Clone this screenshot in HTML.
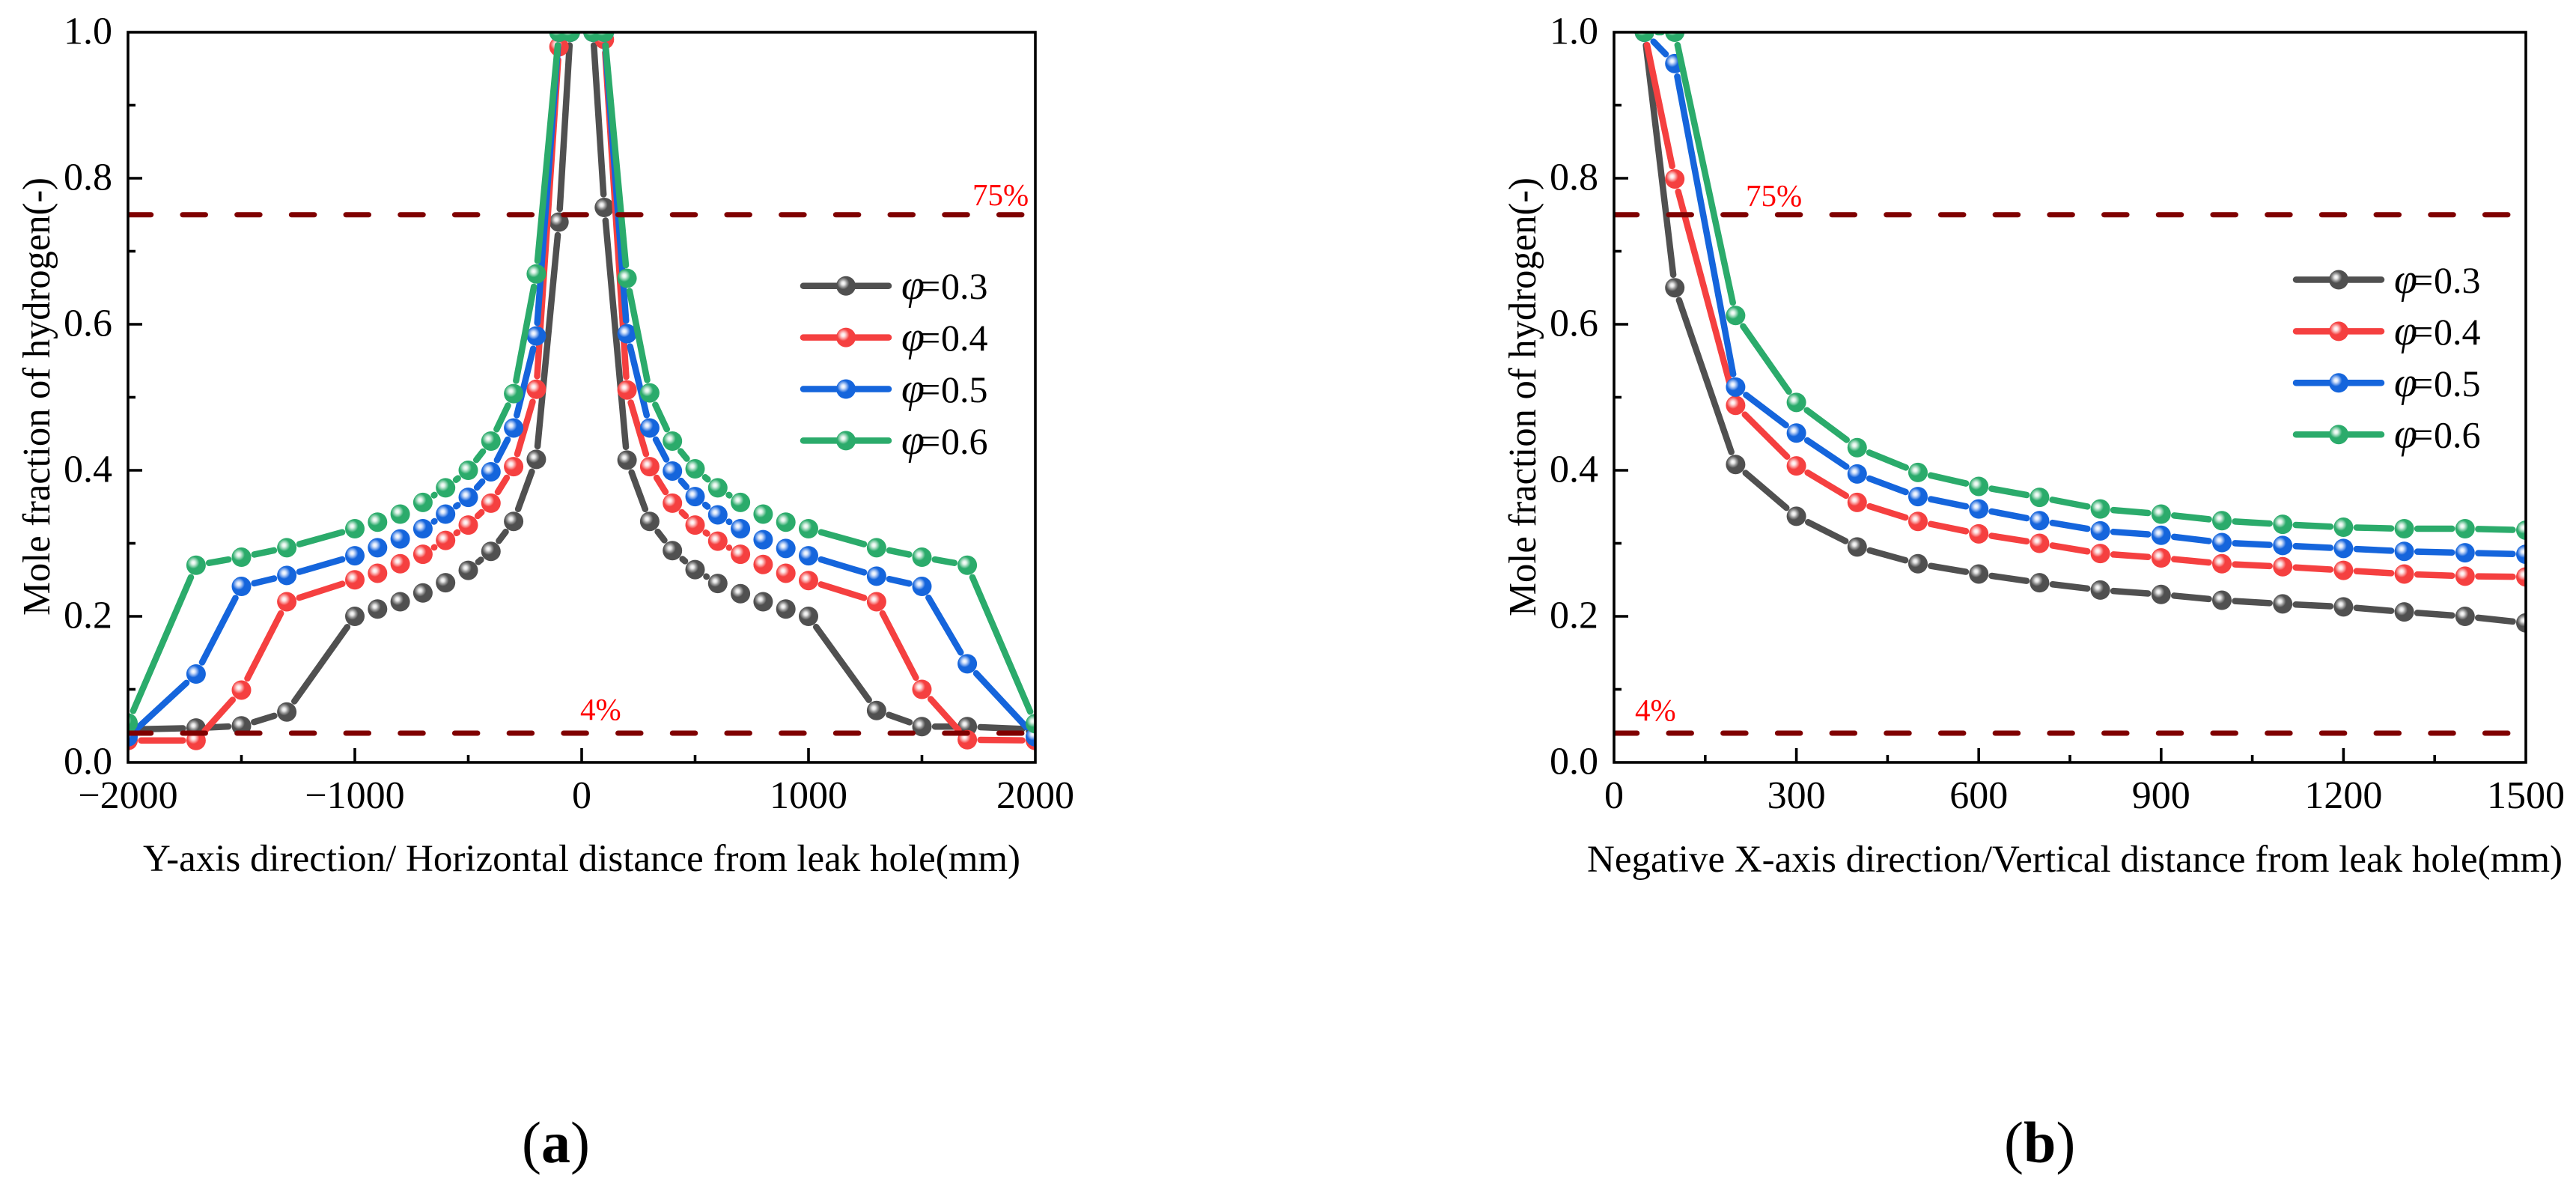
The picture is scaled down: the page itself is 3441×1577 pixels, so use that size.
<!DOCTYPE html>
<html lang="en">
<head>
<meta charset="utf-8">
<title>Mole fraction of hydrogen vs distance from leak hole</title>
<style>
html,body{margin:0;padding:0;background:#fff;}
svg{display:block;font-family:"Liberation Serif","Times New Roman",serif;}
text{fill:#000;}
</style>
</head>
<body>
<svg id="figure" xmlns="http://www.w3.org/2000/svg" width="3441" height="1577" viewBox="0 0 3441 1577">
<defs>
<radialGradient id="ball-0" cx="0.36" cy="0.37" r="0.31"><stop offset="0" stop-color="#ffffff"/><stop offset="0.3" stop-color="#e4e4e4"/><stop offset="0.62" stop-color="#9a9a9a"/><stop offset="1" stop-color="#505050"/></radialGradient>
<radialGradient id="ball-1" cx="0.36" cy="0.37" r="0.31"><stop offset="0" stop-color="#ffffff"/><stop offset="0.3" stop-color="#fde4e4"/><stop offset="0.62" stop-color="#fa9c9c"/><stop offset="1" stop-color="#f54040"/></radialGradient>
<radialGradient id="ball-2" cx="0.36" cy="0.37" r="0.31"><stop offset="0" stop-color="#ffffff"/><stop offset="0.3" stop-color="#dce8fb"/><stop offset="0.62" stop-color="#86aeee"/><stop offset="1" stop-color="#1565dc"/></radialGradient>
<radialGradient id="ball-3" cx="0.36" cy="0.37" r="0.31"><stop offset="0" stop-color="#ffffff"/><stop offset="0.3" stop-color="#e0f3e9"/><stop offset="0.62" stop-color="#90d3b1"/><stop offset="1" stop-color="#2bab6b"/></radialGradient>
<clipPath id="clip-a"><rect x="171" y="43" width="1212" height="975"/></clipPath>
<clipPath id="clip-b"><rect x="2156" y="43" width="1218" height="975"/></clipPath>
</defs>
<rect x="0" y="0" width="3441" height="1577" fill="#ffffff"/>

<g id="panel-a"></g>
<g id="panel-b"></g>

<text x="191" y="1163" font-size="51" textLength="1172" lengthAdjust="spacingAndGlyphs">Y-axis direction/ Horizontal distance from leak hole(mm)</text>
<text transform="translate(66,822) rotate(-90)" font-size="52" textLength="585" lengthAdjust="spacingAndGlyphs">Mole fraction of hydrogen(-)</text>
<text x="2120" y="1164" font-size="51" textLength="1303" lengthAdjust="spacingAndGlyphs">Negative X-axis direction/Vertical distance from leak hole(mm)</text>
<text transform="translate(2051,823) rotate(-90)" font-size="52" textLength="586" lengthAdjust="spacingAndGlyphs">Mole fraction of hydrogen(-)</text>

<text x="1299" y="274" font-size="41" style="fill:#ff0000">75%</text>
<text x="775" y="961" font-size="41" style="fill:#ff0000">4%</text>
<text x="2332" y="275" font-size="41" style="fill:#ff0000">75%</text>
<text x="2184" y="962" font-size="41" style="fill:#ff0000">4%</text>

<text x="697" y="1552" font-size="78">(<tspan font-weight="bold">a</tspan>)</text>
<text x="2677" y="1552" font-size="78">(<tspan font-weight="bold">b</tspan>)</text>
</svg>

<script>
// Panel (a) data: Y-axis direction
const xValuesA = [-2000,-1700,-1500,-1300,-1000,-900,-800,-700,-600,-500,-400,-300,-200,-100,-50,50,100,200,300,400,500,600,700,800,900,1000,1300,1500,1700,2000];
const phi03A = [0.045,0.047,0.05,0.069,0.2,0.21,0.22,0.232,0.246,0.263,0.289,0.33,0.415,0.74,1,1,0.76,0.414,0.33,0.29,0.264,0.245,0.231,0.22,0.21,0.2,0.071,0.049,0.049,0.045];
const phi04A = [0.03,0.03,0.099,0.22,0.25,0.259,0.272,0.285,0.304,0.325,0.355,0.405,0.511,0.98,1,1,0.99,0.51,0.405,0.355,0.325,0.303,0.285,0.271,0.259,0.249,0.22,0.1,0.031,0.03];
const phi05A = [0.035,0.121,0.241,0.256,0.283,0.294,0.306,0.32,0.34,0.363,0.398,0.458,0.584,1,1,1,1,0.587,0.458,0.399,0.364,0.339,0.32,0.305,0.293,0.283,0.255,0.241,0.135,0.035];
const phi06A = [0.054,0.27,0.281,0.294,0.32,0.329,0.34,0.356,0.376,0.4,0.44,0.505,0.669,1,1,1,1,0.663,0.506,0.44,0.402,0.376,0.356,0.34,0.329,0.32,0.294,0.281,0.27,0.053];

// Panel (b) data: negative X-axis direction
const xValuesB = [50,100,200,300,400,500,600,700,800,900,1000,1100,1200,1300,1400,1500];
const phi03B = [1,0.65,0.408,0.337,0.295,0.272,0.258,0.246,0.236,0.23,0.222,0.217,0.213,0.206,0.2,0.191];
const phi04B = [1,0.799,0.489,0.406,0.356,0.33,0.313,0.3,0.286,0.28,0.272,0.268,0.263,0.258,0.255,0.254];
const phi05B = [1,0.957,0.514,0.451,0.395,0.364,0.347,0.331,0.317,0.311,0.301,0.297,0.293,0.289,0.287,0.285];
const phi06B = [1,1,0.612,0.493,0.431,0.397,0.378,0.363,0.347,0.34,0.331,0.326,0.322,0.32,0.32,0.318];

// Tick values and labels
const yMajorTicks = [0,0.2,0.4,0.6,0.8,1];
const yMinorTicks = [0.1,0.3,0.5,0.7,0.9];
const yTickLabels = ['0.0','0.2','0.4','0.6','0.8','1.0'];
const xMajorTicksA = [-2000,-1000,0,1000,2000];
const xMinorTicksA = [-1500,-500,500,1500];
const xTickLabelsA = ['\u22122000','\u22121000','0','1000','2000'];
const xMajorTicksB = [0,300,600,900,1200,1500];
const xMinorTicksB = [150,450,750,1050,1350];
const xTickLabelsB = ['0','300','600','900','1200','1500'];

// Reference levels and series names
const referenceLevels = [0.75,0.04];
const referenceNames = ['75-percent','4-percent'];
const seriesLabels = ['0.3','0.4','0.5','0.6'];
const seriesColors = ['#505050','#f54040','#1565dc','#2bab6b'];

const NS = 'http://www.w3.org/2000/svg';
function make(parent, tag, attrs) {
  const el = document.createElementNS(NS, tag);
  for (const k in attrs) el.setAttribute(k, attrs[k]);
  parent.appendChild(el);
  return el;
}

function drawPanel(cfg) {
  const root = document.getElementById(cfg.id);
  const sx = v => cfg.left + (v - cfg.xMin) / (cfg.xMax - cfg.xMin) * (cfg.right - cfg.left);
  const sy = v => cfg.bottom - (v - 0) / (1 - 0) * (cfg.bottom - cfg.top);

  const plot = make(root, 'g', {'clip-path': 'url(#' + cfg.clip + ')'});
  
  

  cfg.series.forEach((vals, s) => {
    const group = make(plot, 'g', {});
    
    
    const gap = 17.5;
    for (let i = 0; i < vals.length - 1; i++) {
      const x1 = sx(cfg.xs[i]), y1 = sy(vals[i]), x2 = sx(cfg.xs[i + 1]), y2 = sy(vals[i + 1]);
      const len = Math.hypot(x2 - x1, y2 - y1);
      if (len <= 2 * gap) continue;
      const ux = (x2 - x1) / len, uy = (y2 - y1) / len;
      const seg = make(group, 'line', {
        x1: x1 + ux * gap, y1: y1 + uy * gap, x2: x2 - ux * gap, y2: y2 - uy * gap,
        stroke: seriesColors[s], 'stroke-width': 8.5, 'stroke-linecap': 'round'
      });
      
      
    }
    vals.forEach((v, i) => {
      const dot = make(group, 'circle', {cx: sx(cfg.xs[i]), cy: sy(v), r: 13, fill: 'url(#ball-' + s + ')'});
      
      
    });
  });

  referenceLevels.forEach((lvl, i) => {
    const ref = make(plot, 'line', {
      x1: cfg.left + 0.25, x2: cfg.right + 10, y1: sy(lvl), y2: sy(lvl),
      stroke: '#800000', 'stroke-width': 7, 'stroke-linecap': 'round', 'stroke-dasharray': '30.5 42.2'
    });
    
    
  });

  const frame = make(root, 'rect', {
    x: cfg.left, y: cfg.top, width: cfg.right - cfg.left, height: cfg.bottom - cfg.top,
    fill: 'none', stroke: '#000', 'stroke-width': 3.6
  });
  
  

  yMajorTicks.forEach((v, i) => {
    if (v > 0 && v < 1) {
      const t = make(root, 'line', {x1: cfg.left, x2: cfg.left + 19, y1: sy(v), y2: sy(v), stroke: '#000', 'stroke-width': 3.6});
      
      
    }
    const lab = make(root, 'text', {x: cfg.left - 21, y: sy(v) + 15.5, 'font-size': 52, 'text-anchor': 'end'});
    lab.textContent = yTickLabels[i];
    
    
  });
  yMinorTicks.forEach(v => {
    const t = make(root, 'line', {x1: cfg.left, x2: cfg.left + 10, y1: sy(v), y2: sy(v), stroke: '#000', 'stroke-width': 3.6});
    
    
  });
  cfg.xMajor.forEach((v, i) => {
    if (v > cfg.xMin && v < cfg.xMax) {
      const t = make(root, 'line', {x1: sx(v), x2: sx(v), y1: cfg.bottom, y2: cfg.bottom - 19, stroke: '#000', 'stroke-width': 3.6});
      
      
    }
    const lab = make(root, 'text', {x: sx(v), y: cfg.bottom + 61, 'font-size': 52, 'text-anchor': 'middle'});
    lab.textContent = cfg.xLabels[i];
    
    
  });
  cfg.xMinor.forEach(v => {
    const t = make(root, 'line', {x1: sx(v), x2: sx(v), y1: cfg.bottom, y2: cfg.bottom - 10, stroke: '#000', 'stroke-width': 3.6});
    
    
  });

  seriesLabels.forEach((name, s) => {
    const y = cfg.legendY + s * 68.9;
    const entry = make(root, 'g', {});
    
    
    make(entry, 'line', {x1: cfg.legendX - 57, x2: cfg.legendX + 57, y1: y, y2: y, stroke: seriesColors[s], 'stroke-width': 8.5, 'stroke-linecap': 'round'});
    make(entry, 'circle', {cx: cfg.legendX, cy: y, r: 13, fill: 'url(#ball-' + s + ')'});
    const txt = make(entry, 'text', {y: y + 17.5, 'font-size': 50});
    const phi = make(txt, 'tspan', {x: cfg.legendX + 74, 'font-style': 'italic', 'font-size': 56});
    phi.textContent = '\u03C6';
    const eq = make(txt, 'tspan', {x: cfg.legendX + 98});
    eq.textContent = '=';
    const val = make(txt, 'tspan', {x: cfg.legendX + 127});
    val.textContent = name;
  });
}

drawPanel({
  id: 'panel-a', clip: 'clip-a', left: 171, right: 1383, top: 43, bottom: 1018,
  xMin: -2000, xMax: 2000, xs: xValuesA, series: [phi03A, phi04A, phi05A, phi06A],
  xMajor: xMajorTicksA, xMinor: xMinorTicksA, xLabels: xTickLabelsA, legendX: 1130, legendY: 381.7
});
drawPanel({
  id: 'panel-b', clip: 'clip-b', left: 2156, right: 3374, top: 43, bottom: 1018,
  xMin: 0, xMax: 1500, xs: xValuesB, series: [phi03B, phi04B, phi05B, phi06B],
  xMajor: xMajorTicksB, xMinor: xMinorTicksB, xLabels: xTickLabelsB, legendX: 3124, legendY: 373.5
});
</script>
</body>
</html>
